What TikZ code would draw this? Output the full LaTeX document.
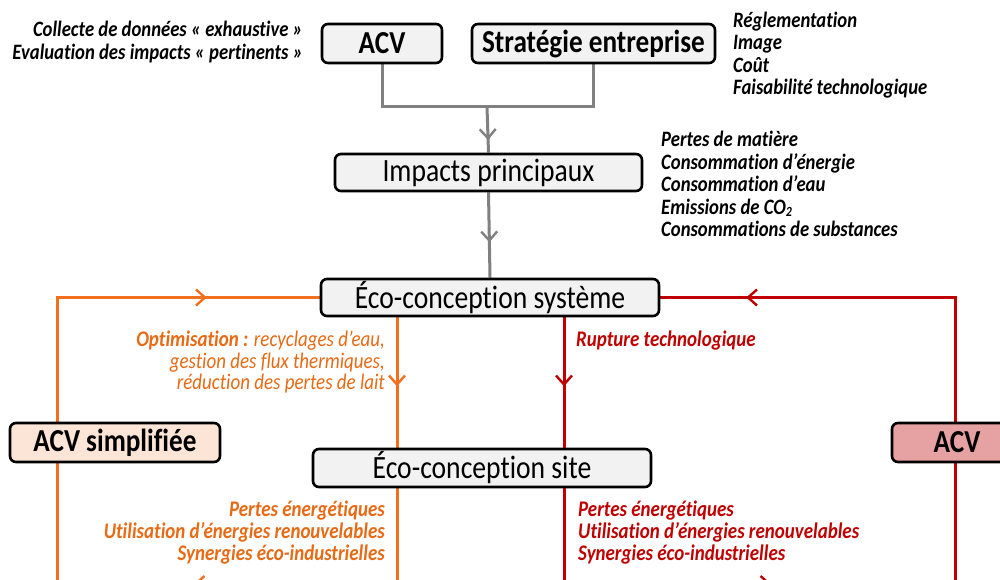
\documentclass[tikz,border=0pt]{standalone}
\usepackage{fontspec}
\setmainfont{Carlito}[Ligatures={NoCommon}, FakeStretch=0.85]
\usetikzlibrary{arrows.meta,decorations.markings,backgrounds}
\definecolor{boxgray}{RGB}{242,242,242}
\definecolor{lgray}{RGB}{128,128,128}
\definecolor{oline}{RGB}{240,112,32}
\definecolor{otext}{RGB}{232,106,20}
\definecolor{rline}{RGB}{192,0,0}
\definecolor{rtext}{RGB}{192,0,0}
\definecolor{peach}{RGB}{252,228,214}
\definecolor{pink}{RGB}{230,162,162}
\begin{document}
\begin{tikzpicture}[x=1pt,y=-1pt,
  box/.style={draw=black, line width=2.6pt, rounded corners=6pt, fill=boxgray,
    inner sep=0pt, font=\fontsize{32.5}{36}\selectfont},
  bbox/.style={box, font=\bfseries\fontsize{32}{36}\selectfont},
  note/.style={inner sep=0pt, font=\bfseries\itshape\fontsize{22}{22.5}\selectfont},
  glink/.style={draw=lgray, line width=3pt},
  olink/.style={draw=oline, line width=3pt},
  rlink/.style={draw=rline, line width=3pt},
  marr/.style={postaction={decorate}, decoration={markings,
    mark=at position #1 with {\arrow{Straight Barb[length=9pt,width=16pt,line width=2.4pt]}}}}
]
\useasboundingbox (0,0) rectangle (1000,580);
\clip (0,0) rectangle (1000,580);

% coordinates
\coordinate (j) at (487,107);
\coordinate (xo) at (397,0);
\coordinate (xr) at (564,0);
\coordinate (obot) at (57,584);
\coordinate (rbot) at (955,584);

% boxes
\node[bbox, minimum width=120pt, minimum height=39pt] (acv) at (382,43.5) {ACV};
\node[bbox, minimum width=243pt, minimum height=39pt] (strat) at (593.5,43.5) {Stratégie entreprise};
\node[box, minimum width=307pt, minimum height=37pt] (imp) at (488.5,172.5) {Impacts principaux};
\node[box, minimum width=338pt, minimum height=37pt] (sys) at (490,297.5) {Éco-conception système};
\node[box, minimum width=338pt, minimum height=38pt] (site) at (482,468) {Éco-conception site};
\node[bbox, fill=peach, minimum width=210pt, minimum height=39pt] (acvs) at (115,442.5) {ACV simplifiée};
\node[bbox, fill=pink, minimum width=130pt, minimum height=39pt] (acvr) at (957,442.5) {ACV};

\begin{scope}[on background layer]
\fill[white] (0,0) rectangle (1000,580);
% gray connectors
\path[glink] (acv.south) |- (j);
\path[glink] (strat.south) |- (j);
\path[glink, marr=33pt] (j) -- (imp.north);
\path[glink, marr=50pt] (imp.south) -- (sys.north);

% orange loop
\path[olink, marr=69pt] (sys.south -| xo) -- (site.north -| xo);
\path[olink, marr=299pt] (site.south -| xo) -- (xo |- obot) -- (obot) -- (acvs.south -| obot);
\path[olink, marr=274pt] (acvs.north -| obot) |- (sys.west);

% red loop
\path[rlink, marr=69pt] (sys.south -| xr) -- (site.north -| xr);
\path[rlink, marr=303pt] (site.south -| xr) -- (xr |- rbot) -- (rbot) -- (acvr.south -| rbot);
\path[rlink, marr=333pt] (acvr.north -| rbot) |- (sys.east);
\end{scope}

% notes
\node[note, align=right, anchor=east] (n1) at (303,42) {Collecte de données « exhaustive »\\Evaluation des impacts « pertinents »};
\node[note, align=left, anchor=west] (n2) at (733,55) {Réglementation\\Image\\Coût\\Faisabilité technologique};
\node[note, align=left, anchor=west] (n3) at (661,184) {Pertes de matière\\Consommation d’énergie\\Consommation d’eau\\Emissions de CO{\fontsize{14}{14}\selectfont\raisebox{-0.18em}{2}}\\Consommations de substances};
\node[note, align=right, anchor=east, text=otext, font=\itshape\fontsize{22.3}{21.5}\selectfont] (n4) at (385,362) {\textbf{Optimisation :} recyclages d’eau,\\gestion des flux thermiques,\\réduction des pertes de lait};
\node[note, align=left, anchor=west, text=rtext, font=\bfseries\itshape\fontsize{22.3}{22}\selectfont] (n5) at (576,341) {Rupture technologique};
\node[note, align=right, anchor=east, text=otext, font=\bfseries\itshape\fontsize{22.3}{22}\selectfont] (n6) at (385,533) {Pertes énergétiques\\Utilisation d’énergies renouvelables\\Synergies éco-industrielles};
\node[note, align=left, anchor=west, text=rtext, font=\bfseries\itshape\fontsize{22.3}{22}\selectfont] (n7) at (578,533) {Pertes énergétiques\\Utilisation d’énergies renouvelables\\Synergies éco-industrielles};
\end{tikzpicture}
\end{document}
